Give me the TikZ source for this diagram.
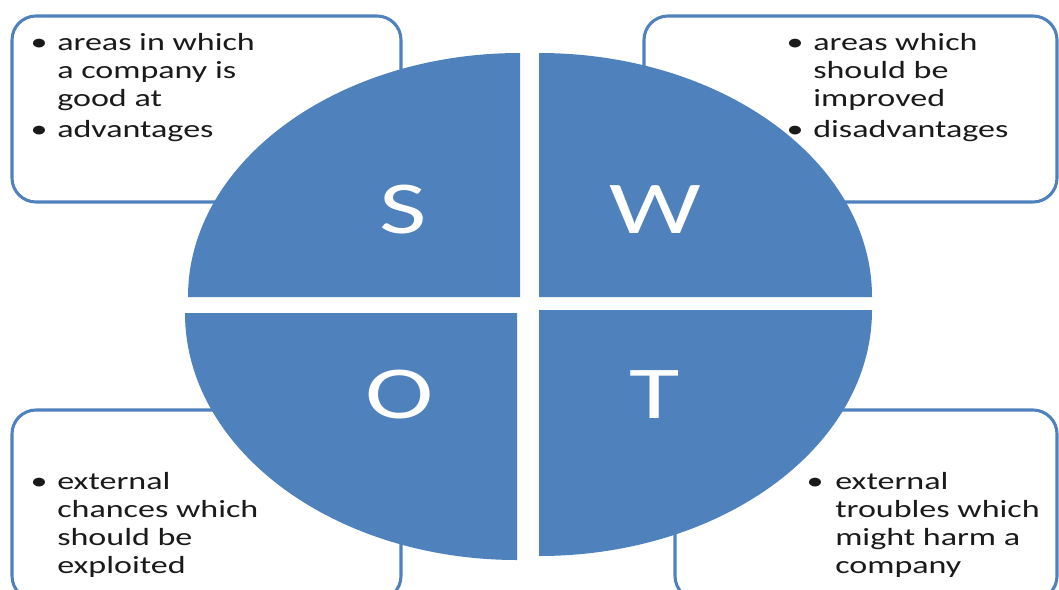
\documentclass[tikz,border=0pt]{standalone}
\usepackage{fontspec}
\setmainfont{Carlito}
\newfontfamily\swotfont{Carlito}[FakeStretch=1.38]
\definecolor{swotblue}{HTML}{4F81BD}
\definecolor{ink}{HTML}{1A1A1A}
\newcommand\stacklines[1]{\begin{tabular}[t]{@{}l@{}}#1\end{tabular}}

\begin{document}
\begin{tikzpicture}[x=0.75pt,y=-0.75pt,
  quarter/.style={fill=swotblue},
  infobox/.style={draw=swotblue, line width=2.3pt, fill=white, rounded corners=18pt},
  letter/.style={anchor=base, text=white, inner sep=0,
    font=\swotfont\fontsize{56}{56}\selectfont},
  itemtext/.style={anchor=base west, inner sep=0, text=ink,
    font=\swotfont\fontsize{18.5}{21}\selectfont},
  bulletmark/.style={anchor=base, inner sep=0, text=ink,
    font=\swotfont\fontsize{18.5}{21}\selectfont}]
\clip (0,0) rectangle (1059,589);

% description boxes behind the pie
\draw[infobox] (12,16) rectangle (401,202);
\draw[infobox] (644,16) rectangle (1057,202);
\draw[infobox] (12,410) rectangle (401,600);
\draw[infobox] (675,410) rectangle (1057,600);

% four quarters of the pie
\fill[quarter] (520,297) -- ++(-332,0)
  arc[start angle=180, end angle=270, x radius=332, y radius=244] -- cycle;
\fill[quarter] (539,297) -- ++(333,0)
  arc[start angle=0, end angle=-90, x radius=333, y radius=244] -- cycle;
\fill[quarter] (517,313) -- ++(-332,0)
  arc[start angle=180, end angle=90, x radius=332, y radius=247] -- cycle;
\fill[quarter] (539,310) -- ++(333,0)
  arc[start angle=0, end angle=90, x radius=333, y radius=246] -- cycle;

% letters
\node[letter] (S) at (403,233) {S};
\node[letter] (W) at (655,233) {W};
\node[letter] (O) at (400,418) {O};
\node[letter] (T) at (655,418) {T};

% strengths
\node[bulletmark] (s1b) at (39,50) {•};
\node[itemtext] (s1) at (57,50) {\stacklines{areas in which\\a company is\\good at}};
\node[bulletmark] (s2b) at (39,137) {•};
\node[itemtext] (s2) at (57,137) {\stacklines{advantages}};

% weaknesses
\node[bulletmark] (w1b) at (795,50) {•};
\node[itemtext] (w1) at (813,50) {\stacklines{areas which\\should be\\improved}};
\node[bulletmark] (w2b) at (795,137) {•};
\node[itemtext] (w2) at (813,137) {\stacklines{disadvantages}};

% opportunities
\node[bulletmark] (o1b) at (39,489) {•};
\node[itemtext] (o1) at (57,489) {\stacklines{external\\chances which\\should be\\exploited}};

% threats
\node[bulletmark] (t1b) at (815,489) {•};
\node[itemtext] (t1) at (835,489) {\stacklines{external\\troubles which\\might harm a\\company}};
\end{tikzpicture}
\end{document}
